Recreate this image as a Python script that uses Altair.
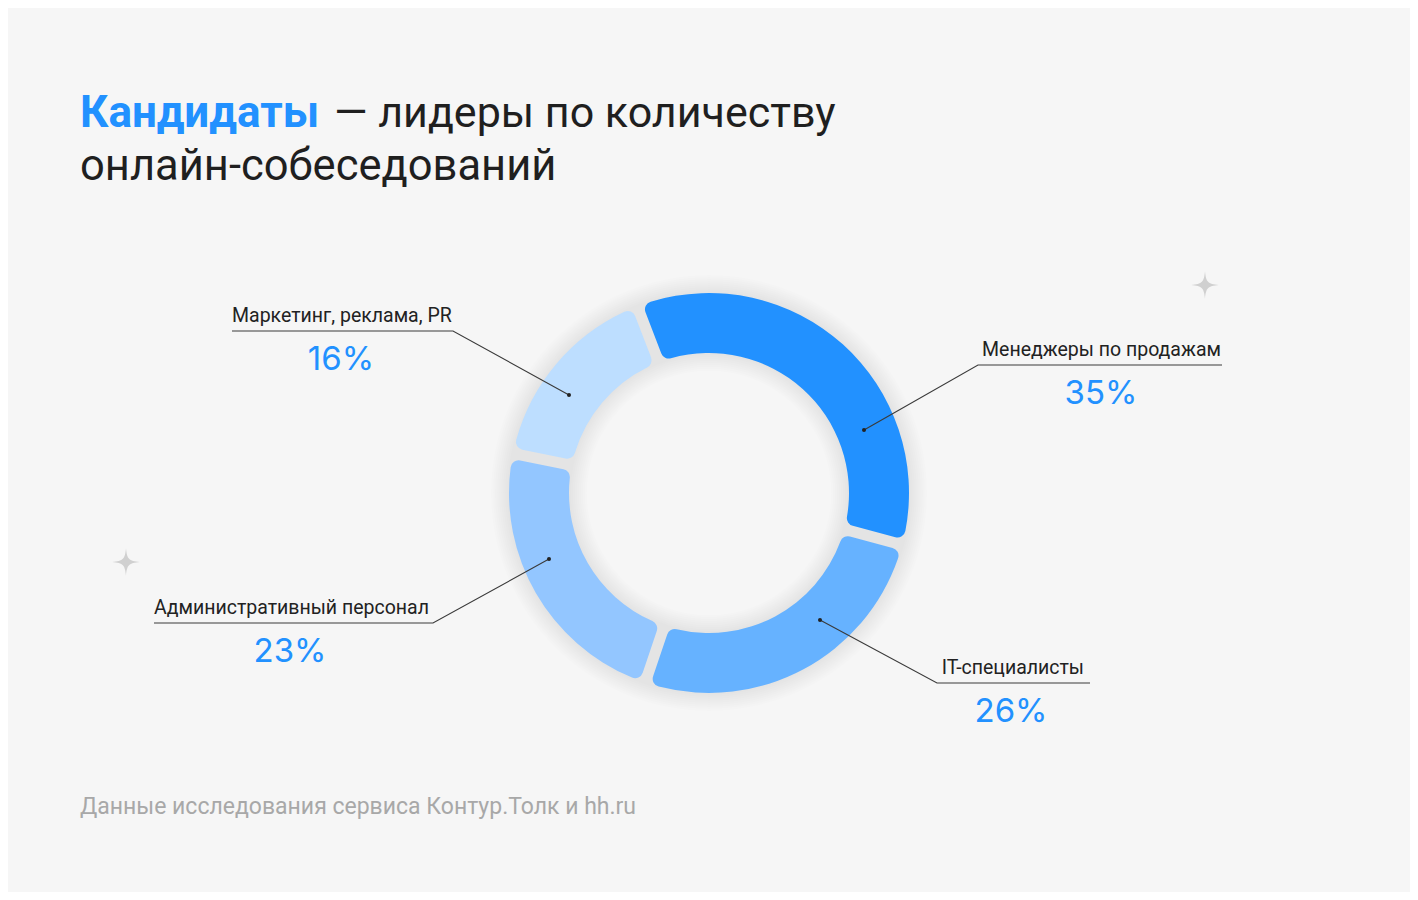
import math
import altair as alt
import pandas as pd

# ---- data ----
categories = ["Менеджеры по продажам", "IT-специалисты", "Административный персонал", "Маркетинг, реклама, PR"]
values = [35, 26, 23, 16]
pct_labels = ["35%", "26%", "23%", "16%"]
colors = ["#2291FF", "#66B2FF", "#93C6FF", "#BDDEFF"]

title_accent = "Кандидаты"
title_rest = "— лидеры по количеству"
title_line2 = "онлайн-собеседований"
source_text = "Данные исследования сервиса Контур.Толк и hh.ru"

# ---- layout (pixel positions on the 1418x900 page) ----
W, H = 1402, 884
OFF = 8
cx, cy = 709, 493
r_out, r_in = 200, 140
start_deg = -21

dot_x = [864, 820, 549, 569]
dot_y = [430, 620, 559, 395]
elbow_x = [978, 937, 433, 453]
line_y = [365, 683, 623, 331]
end_x = [1222, 1090, 154, 232]
label_x = [1221, 1084, 154, 232]
label_align = ["right", "right", "left", "left"]
pct_x = [1101, 1011, 290, 341]

star_x = [1205, 126]
star_y = [285, 562]

xs = alt.Scale(domain=[OFF, OFF + W])
ys = alt.Scale(domain=[OFF, OFF + H], reverse=True)


def X(f):
    return alt.X(f, type="quantitative", scale=xs, axis=None)


def Y(f):
    return alt.Y(f, type="quantitative", scale=ys, axis=None)


cat_df = pd.DataFrame({
    "cat": categories, "value": values, "idx": list(range(len(values))),
    "pct": pct_labels, "cx": cx, "cy": cy,
})

a0 = math.radians(start_deg)

# soft shadow rings
shadow_layers = []
for k in range(1, 10):
    shadow_layers.append(
        alt.Chart(pd.DataFrame({"cx": [cx], "cy": [cy]})).mark_arc(
            radius=r_out + 2 * k, radius2=max(r_in - 2 * k, 0), theta=0, theta2=2 * math.pi,
            color="#000000", opacity=0.007,
        ).encode(x=X("cx"), y=Y("cy"))
    )

donut = alt.Chart(cat_df).mark_arc(
    radius=r_out, radius2=r_in, padAngle=0.045, cornerRadius=8, stroke=None,
).encode(
    theta=alt.Theta("value:Q", stack=True, scale=alt.Scale(range=[a0, a0 + 2 * math.pi])),
    order=alt.Order("idx:Q"),
    color=alt.Color("cat:N", scale=alt.Scale(domain=categories, range=colors), legend=None),
    x=X("cx"), y=Y("cy"),
)

# leader lines
rows = []
for i, c in enumerate(categories):
    rows.append({"cat": c, "o": 0, "x": dot_x[i], "y": dot_y[i]})
    rows.append({"cat": c, "o": 1, "x": elbow_x[i], "y": line_y[i]})
    rows.append({"cat": c, "o": 2, "x": end_x[i], "y": line_y[i]})
lines_df = pd.DataFrame(rows)
leaders = alt.Chart(lines_df).mark_line(color="#3a3a3a", strokeWidth=1.1).encode(
    x=X("x"), y=Y("y"), detail="cat:N", order="o:Q"
)

dots_df = pd.DataFrame({"x": dot_x, "y": dot_y})
dots = alt.Chart(dots_df).mark_point(filled=True, color="#222222", size=16, opacity=1).encode(
    x=X("x"), y=Y("y")
)

lab_df = pd.DataFrame({
    "cat": categories, "pct": pct_labels, "lx": label_x, "ly": [v - 9 for v in line_y],
    "px": pct_x, "py": [v + 39 for v in line_y], "al": label_align,
})
label_layers = []
for al in ["left", "right"]:
    label_layers.append(
        alt.Chart(lab_df[lab_df["al"] == al]).mark_text(
            align=al, baseline="alphabetic", font="Roboto", fontSize=19.5, color="#222222"
        ).encode(x=X("lx"), y=Y("ly"), text="cat:N")
    )
pcts = alt.Chart(lab_df).mark_text(
    align="center", baseline="alphabetic", font="Inter", fontSize=33, color="#2291FF"
).encode(x=X("px"), y=Y("py"), text="pct:N")

# title & source
t_df = pd.DataFrame({
    "t": [title_accent, title_rest, title_line2],
    "x": [80, 334, 80], "y": [127, 127, 180], "k": ["a", "b", "c"],
    "fs": [44, 43, 43.5],
})
title_a = alt.Chart(t_df[t_df.k == "a"]).mark_text(
    align="left", baseline="alphabetic", font="Roboto", fontSize=44, fontWeight=700, color="#2291FF"
).encode(x=X("x"), y=Y("y"), text="t:N")
title_b = alt.Chart(t_df[t_df.k == "b"]).mark_text(
    align="left", baseline="alphabetic", font="Roboto", fontSize=43, fontWeight=400, color="#1f1f1f"
).encode(x=X("x"), y=Y("y"), text="t:N")
title_c = alt.Chart(t_df[t_df.k == "c"]).mark_text(
    align="left", baseline="alphabetic", font="Roboto", fontSize=43.5, fontWeight=400, color="#1f1f1f"
).encode(x=X("x"), y=Y("y"), text="t:N")
src = alt.Chart(pd.DataFrame({"t": [source_text], "x": [80], "y": [814]})).mark_text(
    align="left", baseline="alphabetic", font="Roboto", fontSize=23, color="#A8A8A8"
).encode(x=X("x"), y=Y("y"), text="t:N")

star_path = ("M0,-1 C0.08,-0.2 0.2,-0.08 1,0 C0.2,0.08 0.08,0.2 0,1 "
             "C-0.08,0.2 -0.2,0.08 -1,0 C-0.2,-0.08 -0.08,-0.2 0,-1 Z")
stars = alt.Chart(pd.DataFrame({"x": star_x, "y": star_y})).mark_point(
    shape=star_path, filled=True, color="#D0D0D0", size=760, opacity=1
).encode(x=X("x"), y=Y("y"))

chart = alt.layer(
    *shadow_layers, donut, leaders, dots, *label_layers, pcts, title_a, title_b, title_c, src, stars
).properties(
    width=W, height=H, background="#F6F6F6", padding=0,
    autosize=alt.AutoSizeParams(type="none"),
).configure_view(stroke=None)

chart.save("out.html", embed_options={"renderer": "svg", "actions": False})
